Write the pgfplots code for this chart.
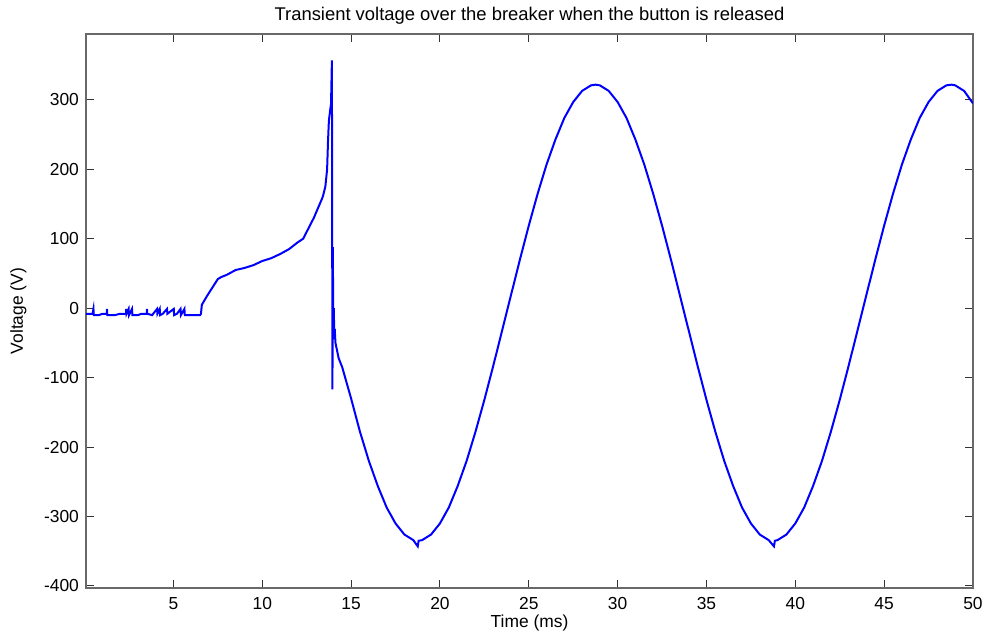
\documentclass[border=0pt]{standalone}
\usepackage{fontspec}
\setmainfont{Liberation Sans}
\usepackage{pgfplots}
\pgfplotsset{compat=1.18}
\definecolor{mblue}{RGB}{0,0,255}
\definecolor{frame}{RGB}{105,105,105}
\begin{document}
\begin{tikzpicture}
\useasboundingbox (-43pt,-24.5pt) rectangle (449.5pt,294pt);
\begin{axis}[
  at={(0pt,0pt)}, anchor=south west,
  width=443.5pt, height=277pt, scale only axis,
  xmin=0.08, xmax=50, ymin=-403, ymax=395,
  xtick={5,10,15,20,25,30,35,40,45,50},
  xticklabels={5,10,15,20,25,30,35,40,45,50},
  ytick={-400,-300,-200,-100,0,100,200,300},
  yticklabels={-400,-300,-200,-100,0,100,200,300},
  tick align=inside, major tick length=4pt,
  axis line style={frame, line width=0.6pt},
  tick style={black!80, line width=0.5pt},
  tick label style={font=\fontsize{8.7}{10}\selectfont},
  xticklabel style={yshift=-1pt},
  label style={font=\fontsize{8.7}{10}\selectfont},
  title style={font=\fontsize{9.2}{11}\selectfont, yshift=-4.5pt},
  title={Transient voltage over the breaker when the button is released},
  xlabel={Time (ms)}, ylabel={Voltage (V)},
  xlabel style={yshift=4pt}, ylabel style={yshift=2pt},
]
\addplot[mblue, line width=1pt] coordinates {
(0.08,-8) (0.45,-8) (0.5,-1) (0.52,-10) (0.8,-10) (1.0,-8) (1.25,-8) (1.26,-1) (1.28,-10)
(1.7,-10) (2.0,-8) (2.33,-8) (2.34,-1) (2.36,-8) (2.48,-1) (2.5,-10) (2.67,-1) (2.69,-10)
(3.0,-10) (3.2,-8) (3.5,-8) (3.51,-1) (3.53,-8) (3.8,-10) (4.08,-1) (4.1,-8) (4.23,-1)
(4.25,-10) (4.4,-8) (4.64,-1) (4.66,-8) (5.02,-1) (5.04,-10) (5.2,-8) (5.4,-1) (5.42,-10)
(5.62,-1) (5.64,-10) (6.0,-10) (6.5,-10) (6.55,-8)
(6.6,5) (6.9,18) (7.2,30) (7.5,42) (7.7,45) (8.0,48) (8.5,55) (9.0,58) (9.5,62) (10.0,68)
(10.5,72) (11.0,78) (11.5,85) (12.0,95) (12.3,100) (12.6,115) (12.9,130) (13.2,148)
(13.4,160) (13.55,175) (13.65,200) (13.7,240) (13.75,270) (13.82,285) (13.87,294)
(13.92,357) (13.95,-117) (13.97,88) (13.99,10) (14.01,-25) (14.03,0) (14.05,-45)
(14.08,-30) (14.12,-50) (14.3,-72) (14.5,-85)
(15.0,-130) (15.5,-178) (16.0,-220) (16.5,-256) (17.0,-287) (17.5,-310) (18.0,-326)
(18.5,-334) (18.75,-343) (18.8,-335) (19.0,-334) (19.5,-326) (20.0,-310) (20.5,-287) (21.0,-256)
(21.5,-220) (22.0,-178) (22.5,-132) (23.0,-83) (23.5,-32) (24.0,19) (24.5,70) (25.0,119)
(25.5,165) (26.0,207) (26.5,243) (27.0,274) (27.5,297) (28.0,313) (28.5,321) (28.75,322)
(29.0,321) (29.5,313) (30.0,297) (30.5,274) (31.0,243) (31.5,207) (32.0,165) (32.5,119)
(33.0,70) (33.5,19) (34.0,-32) (34.5,-83) (35.0,-132) (35.5,-178) (36.0,-220) (36.5,-256)
(37.0,-287) (37.5,-310) (38.0,-326) (38.5,-334) (38.8,-343) (38.85,-335) (39.0,-334) (39.5,-326)
(40.0,-310) (40.5,-287) (41.0,-256) (41.5,-220) (42.0,-178) (42.5,-132) (43.0,-83)
(43.5,-32) (44.0,19) (44.5,70) (45.0,119) (45.5,165) (46.0,207) (46.5,243) (47.0,274)
(47.5,297) (48.0,313) (48.5,321) (48.8,322) (49.0,321) (49.5,313) (50.0,295)
};
\end{axis}
\end{tikzpicture}
\end{document}
